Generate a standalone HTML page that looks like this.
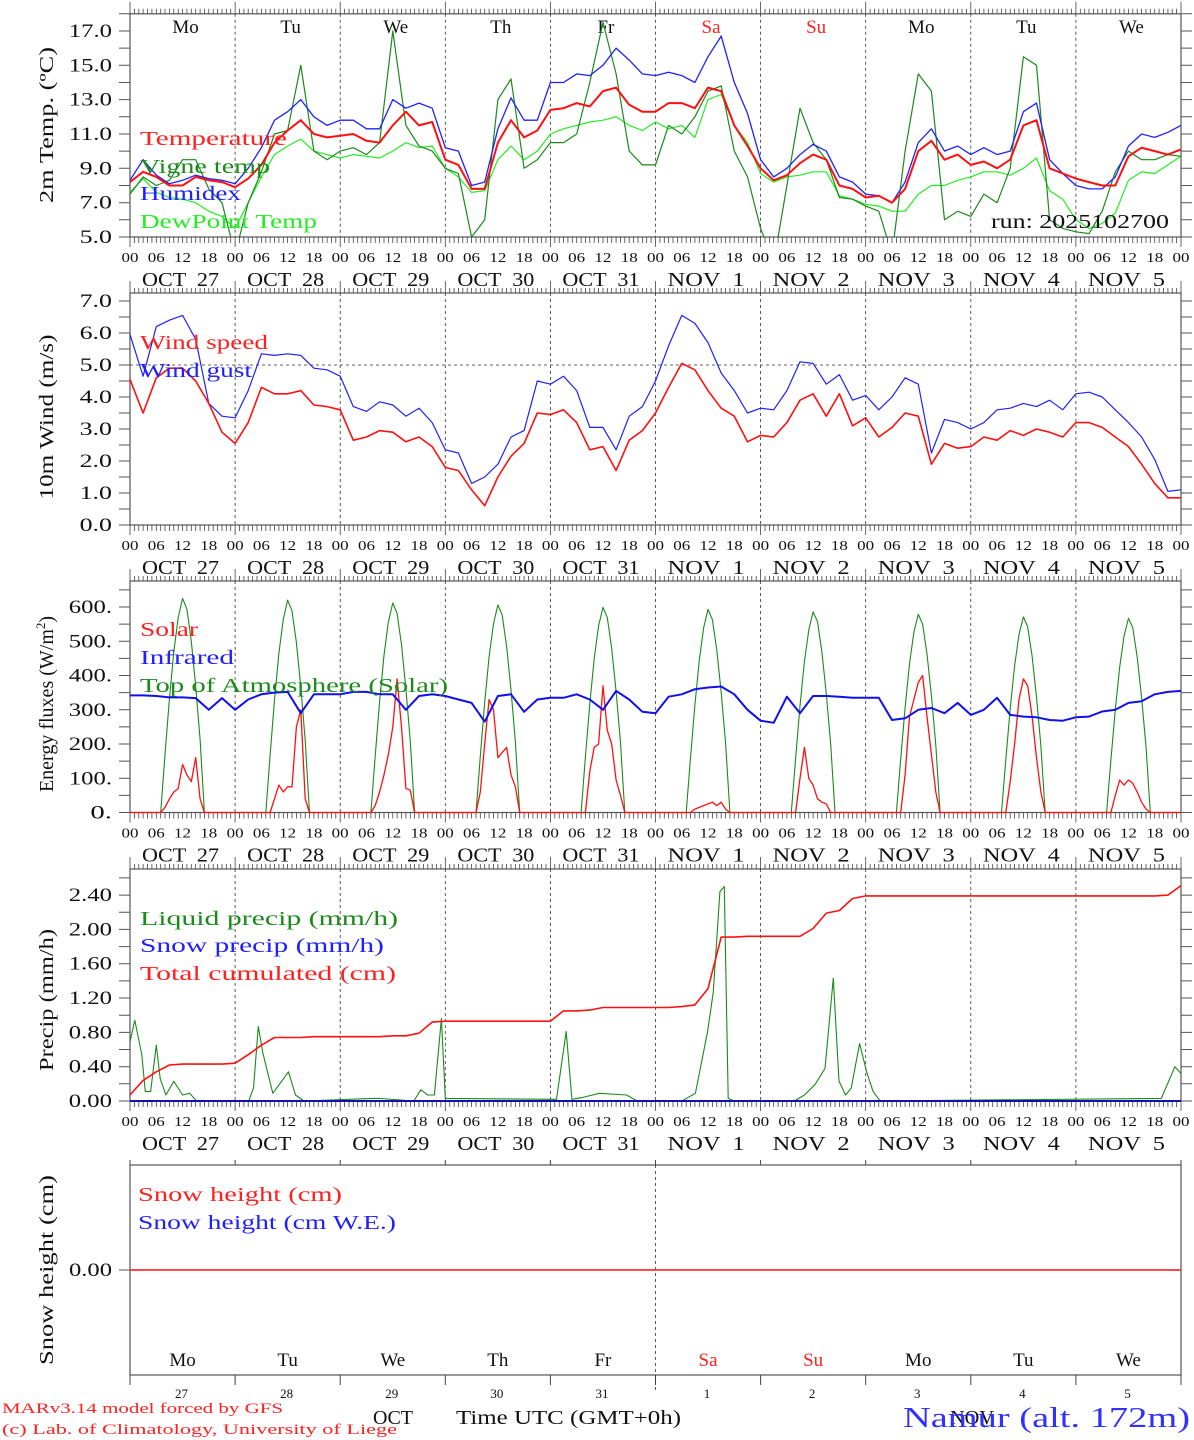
<!DOCTYPE html>
<html><head><meta charset="utf-8"><style>
html,body{margin:0;padding:0;background:#fff;}
svg{display:block;font-family:"Liberation Serif",serif;}
</style></head>
<body>
<svg id="chart" xmlns="http://www.w3.org/2000/svg" width="1194" height="1440" viewBox="0 0 1194 1440"></svg>
<script>
// ---------- DATA (3-hourly unless noted, 00 Oct27 .. 00 Nov6) ----------
const dayNames = ["Mo","Tu","We","Th","Fr","Sa","Su","Mo","Tu","We"];
const dayDates = ["OCT  27","OCT  28","OCT  29","OCT  30","OCT  31","NOV  1","NOV  2","NOV  3","NOV  4","NOV  5"];
const dayNums = ["27","28","29","30","31","1","2","3","4","5"];
const hourLabels = ["00","06","12","18"];
const tempTicks = [5,7,9,11,13,15,17];
const windTicks = [0,1,2,3,4,5,6,7];
const energyTicks = [0,100,200,300,400,500,600];
const precipTicks = [0,0.4,0.8,1.2,1.6,2.0,2.4];

const temperature = [8.2,8.8,8.5,8.0,8.0,8.5,8.3,8.2, 7.9,8.4,9.2,10.5,11.2,11.8,11.0,10.8, 10.9,11.0,10.6,10.5,11.5,12.3,11.5,11.7, 9.5,9.2,7.8,7.8,10.5,11.8,10.8,11.2, 12.4,12.5,12.8,12.6,13.5,13.7,12.7,12.3, 12.3,12.8,12.8,12.5,13.7,13.5,11.5,10.3, 9.0,8.3,8.6,9.3,9.8,9.5,8.0,7.8, 7.3,7.4,7.0,7.8,10.0,10.6,9.5,9.8, 9.2,9.4,9.0,9.5,11.5,11.8,9.0,8.7, 8.4,8.2,8.0,8.0,9.7,10.2,10.0,9.8, 10.1];
const humidex = [8.3,9.5,8.6,8.1,8.3,8.6,8.4,8.3, 8.1,9.0,10.2,11.8,12.3,13.0,12.0,11.5, 11.8,11.8,11.3,11.3,13.0,12.5,12.8,12.5, 10.2,10.0,8.0,8.2,11.3,13.1,11.8,11.8, 14.0,14.0,14.5,14.4,15.0,16.0,15.3,14.5, 14.4,14.6,14.4,14.0,15.5,16.7,14.0,12.2, 9.5,8.5,9.0,9.8,10.4,10.0,8.5,8.2, 7.5,7.4,7.0,8.2,10.5,11.3,10.0,10.3, 9.8,10.2,9.8,10.0,12.3,12.8,9.5,8.7, 8.0,7.8,7.8,8.5,10.3,11.0,10.8,11.1, 11.5];
const dewPoint = [7.6,8.4,7.6,7.3,7.2,7.0,6.5,6.2, 5.5,7.0,8.5,9.8,10.3,10.7,10.0,9.8, 9.6,9.8,9.7,9.6,10.0,10.5,10.2,10.3, 9.0,8.5,7.6,7.7,9.5,10.3,9.5,10.0, 11.0,11.3,11.5,11.7,11.8,12.0,11.5,11.2, 11.7,11.3,11.5,10.8,13.0,13.3,11.5,10.5, 8.7,8.2,8.5,8.6,8.8,8.8,7.4,7.2, 6.9,6.8,6.5,6.5,7.5,8.0,8.0,8.3, 8.5,8.8,8.8,8.6,9.0,9.6,7.7,7.2, 6.0,5.5,5.8,6.4,8.3,8.8,8.7,9.2, 9.7];
const vigneTemp = [7.5,8.5,8.0,8.3,9.5,9.5,7.8,7.0, 4.0,7.0,8.8,11.0,11.2,15.0,10.0,9.5, 10.0,10.2,9.8,10.5,17.0,11.5,10.3,10.0, 9.0,8.7,5.0,6.0,13.0,14.2,9.0,9.5, 10.5,10.5,11.0,14.0,17.5,14.5,10.0,9.2, 9.2,11.5,11.0,12.0,13.5,13.8,10.0,8.5, 5.5,3.5,8.0,12.5,10.5,9.5,7.3,7.2, 6.8,6.5,4.0,10.0,14.5,13.5,6.0,6.5, 6.2,7.5,7.0,9.0,15.5,15.0,6.0,5.5, 5.3,5.2,6.5,8.8,10.0,9.5,9.5,9.8, 9.7];

const windSpeed = [4.55,3.5,4.6,4.9,4.9,4.5,3.8,2.9, 2.55,3.2,4.3,4.1,4.1,4.2,3.75,3.7, 3.6,2.65,2.75,2.95,2.9,2.6,2.75,2.45, 1.8,1.7,1.1,0.6,1.5,2.15,2.55,3.5, 3.45,3.6,3.2,2.35,2.45,1.7,2.65,2.95, 3.5,4.3,5.05,4.85,4.2,3.65,3.4,2.6, 2.8,2.75,3.2,3.9,4.1,3.4,4.1,3.1, 3.35,2.75,3.05,3.5,3.4,1.9,2.55,2.4, 2.45,2.75,2.65,2.95,2.8,3.0,2.9,2.75, 3.2,3.2,3.05,2.75,2.45,1.9,1.3,0.85, 0.85];
const windGust = [5.95,4.65,6.2,6.4,6.55,5.8,3.8,3.4, 3.35,4.2,5.35,5.3,5.35,5.3,4.9,4.85, 4.65,3.7,3.55,3.85,3.75,3.4,3.65,3.2, 2.35,2.25,1.3,1.5,1.9,2.75,2.95,4.5, 4.4,4.65,4.2,3.05,3.05,2.35,3.4,3.7, 4.5,5.6,6.55,6.3,5.7,4.75,4.2,3.5, 3.65,3.6,4.2,5.1,5.05,4.4,4.7,3.9, 4.05,3.6,4.0,4.6,4.4,2.25,3.3,3.2, 3.0,3.2,3.6,3.65,3.8,3.7,3.9,3.6, 4.1,4.15,4.0,3.6,3.2,2.75,2.05,1.05, 1.1];

// hourly values 07..17 UTC for each day
const solarDays = [
 [0,15,40,60,70,140,110,90,160,40,0],
 [0,0,40,80,60,75,75,250,300,40,0],
 [0,20,60,110,170,250,390,250,70,65,0],
 [0,60,200,330,300,160,175,190,110,75,0],
 [0,0,120,190,200,370,240,200,95,50,0],
 [0,0,10,15,20,25,30,20,30,10,0],
 [0,0,100,190,100,80,40,30,25,0,0],
 [0,0,110,280,330,380,400,280,170,60,0],
 [0,0,90,200,330,390,370,280,160,60,0],
 [0,0,50,95,80,95,85,60,30,10,0]];
const toaDays = [
 [0,169,331,469,569,625,594,500,369,213,0],
 [0,167,329,465,564,620,589,496,366,211,0],
 [0,165,324,459,557,612,581,490,361,208,0],
 [0,164,321,455,551,606,576,485,358,206,0],
 [0,162,317,449,545,599,569,479,353,204,0],
 [0,160,314,445,540,593,563,474,350,202,0],
 [0,158,311,440,533,586,557,469,346,199,0],
 [0,156,307,434,527,579,550,463,342,197,0],
 [0,154,303,428,520,571,542,457,337,194,0],
 [0,153,301,425,516,567,539,454,335,193,0]];
const infrared = [342,342,340,336,336,334,300,334, 300,330,345,350,352,290,345,345, 345,352,352,345,345,300,340,345, 340,330,320,265,340,345,294,330, 335,335,345,330,300,355,330,294, 290,338,345,360,365,368,345,300, 268,262,338,290,340,340,338,335, 335,335,270,275,300,305,290,320, 285,300,335,285,280,278,270,268, 278,280,295,300,320,325,345,352, 355];

const precipCum = [0.07,0.24,0.34,0.42,0.43,0.43,0.43,0.43, 0.44,0.54,0.65,0.74,0.74,0.74,0.75,0.75, 0.75,0.75,0.75,0.75,0.76,0.76,0.79,0.92, 0.93,0.93,0.93,0.93,0.93,0.93,0.93,0.93, 0.93,1.05,1.05,1.06,1.09,1.09,1.09,1.09, 1.09,1.09,1.10,1.12,1.31,1.91,1.91,1.92, 1.92,1.92,1.92,1.92,2.01,2.19,2.22,2.36, 2.39,2.39,2.39,2.39,2.39,2.39,2.39,2.39, 2.39,2.39,2.39,2.39,2.39,2.39,2.39,2.39, 2.39,2.39,2.39,2.39,2.39,2.39,2.39,2.40, 2.51];
const liquidHours = [0,1.1,2.7,3.5,4.7,6,6.9,8.2,10,12,13.6,15.2, 27.1,28.2,29.3,30.3,31,32.6,36.2,37.8,39.7, 55.4,57,64.8,66.4,68,69.5,71.1,72, 97.4,99.6,100.9,103.2,107.2,113.4,115.8, 126,129.1,131.9,133.2,134.7,135.7,136.6,138, 151.7,154,156.4,158.7,160.6,161.9,163.4,164.7,166.6,168.2,169.7,171.3, 235.5,238.6,240];
const liquidValues = [0.69,0.94,0.54,0.11,0.11,0.65,0.26,0.07,0.23,0.07,0.09,0, 0,0.15,0.87,0.57,0.42,0.09,0.34,0.07,0, 0.03,0.03,0,0.13,0.07,0.07,0.96,0.03, 0.02,0.81,0.02,0.04,0.09,0.07,0, 0,0.09,0.81,1.27,2.44,2.50,0.03,0, 0,0.07,0.19,0.38,1.43,0.23,0.07,0.15,0.67,0.34,0.11,0, 0.03,0.40,0.32];
const snowPrecip = [0,0];
const snowHeight = [0,0];

// ---------- LAYOUT ----------
const NS = "http://www.w3.org/2000/svg";
const svg = document.getElementById("chart");
const X0 = 130, X1 = 1181;
function xOf(h){ return X0 + h*(X1-X0)/240; }
function mk(tag, attrs, parent){
  const e = document.createElementNS(NS, tag);
  for (const k in attrs) e.setAttribute(k, attrs[k]);
  (parent||svg).appendChild(e);
  return e;
}
function txt(str, attrs, parent){
  const e = mk("text", attrs, parent);
  e.textContent = str;
  return e;
}
const panels = [
  {top:13.8, bottom:237, y:v=>237-(v-5)*17.17},
  {top:293, bottom:525, y:v=>525-v*32},
  {top:581, bottom:812.5, y:v=>812.5-v*0.3425},
  {top:869, bottom:1101, y:v=>1101-v*85.8},
  {top:1165, bottom:1375, y:v=>1270-v*100}
];

function frame(p, i){
  const g = mk("g", {});
  
  
  mk("rect", {x:X0, y:p.top, width:X1-X0, height:p.bottom-p.top, fill:"none", stroke:"#555", "stroke-width":1.2}, g);
  for (let d=1; d<10; d++){
    if (i===4 && d!==5) continue;
    const x = xOf(d*24);
    mk("line", {x1:x, x2:x, y1:p.top, y2:p.bottom, stroke:"#333", "stroke-width":0.8, "stroke-dasharray":"3,3"}, g);
  }
  if (i<4){
    let s = "";
    for (let h=0; h<=240; h++){
      const x = xOf(h).toFixed(1);
      const major = h%24===0;
      s += `M${x},${p.top-(major?12:5)}V${p.top}M${x},${p.bottom}V${p.bottom+(major?10:6)}`;
    }
    mk("path", {d:s, stroke:"#444", "stroke-width":0.8, fill:"none"}, g);
  } else {
    let s = "";
    for (let d=0; d<=10; d++){
      const x = xOf(d*24).toFixed(1);
      s += `M${x},${p.top-5}V${p.top}M${x},${p.bottom}V${p.bottom+10}`;
    }
    mk("path", {d:s, stroke:"#444", "stroke-width":1, fill:"none"}, g);
    mk("line", {x1:xOf(120), x2:xOf(120), y1:p.bottom, y2:1392, stroke:"#333", "stroke-width":0.8, "stroke-dasharray":"3,3"}, g);
  }
  if (i<4){
    for (let d=0; d<10; d++){
      for (let k=0; k<4; k++){
        const t = txt(hourLabels[k], {x:xOf(d*24+k*6), y:p.bottom+25, "font-size":14, "text-anchor":"middle", fill:"#111", textLength:17, lengthAdjust:"spacingAndGlyphs"}, g);
        
        
      }
      const dl = txt(dayDates[d], {x:xOf(d*24+12)-2, y:p.bottom+49, "font-size":20, "text-anchor":"middle", fill:"#111", "xml:space":"preserve", style:"white-space:pre", textLength:77, lengthAdjust:"spacingAndGlyphs"}, g);
      
      
    }
    const e = txt("00", {x:xOf(240), y:p.bottom+25, "font-size":14, "text-anchor":"middle", fill:"#111", textLength:17, lengthAdjust:"spacingAndGlyphs"}, g);
    
    
  }
  return g;
}

function yTicks(p, ticks, minorStep, fmt, name){
  const g = mk("g", {});
  
  
  let s = "";
  const lo = ticks[0], hi = ticks[ticks.length-1]+minorStep*2;
  for (let v=lo; v<=hi+1e-6; v+=minorStep){
    const y = p.y(v);
    if (y < p.top-0.5) break;
    s += `M${X0-11},${y.toFixed(1)}H${X0}M${X1},${y.toFixed(1)}H${X1+11}`;
  }
  mk("path", {d:s, stroke:"#555", "stroke-width":1, fill:"none"}, g);
  ticks.forEach(v=>{
    const str = fmt(v);
    const t = txt(str, {x:112, y:p.y(v)+6, "font-size":19, "text-anchor":"end", fill:"#111", textLength:str.length*10.8, lengthAdjust:"spacingAndGlyphs"}, g);
    
    
  });
}

function yTitle(str, cy, name, len){
  const t = txt(str, {x:0, y:0, "font-size":20, "text-anchor":"middle", fill:"#111", transform:`translate(53,${cy}) rotate(-90)`, textLength:len, lengthAdjust:"spacingAndGlyphs"});
  
  
  return t;
}

function series(p, vals, step, color, w, name, clipMin){
  const pts = vals.map((v,i)=>{
    let y = p.y(v);
    if (clipMin!==undefined) y = Math.min(y, p.y(clipMin));
    return xOf(i*step).toFixed(1)+","+y.toFixed(1);
  }).join(" ");
  const l = mk("polyline", {points:pts, fill:"none", stroke:color, "stroke-width":w, "stroke-linejoin":"round"});
  
  
  return l;
}
function xySeries(p, hours, vals, color, w, name){
  const pts = hours.map((h,i)=>xOf(h).toFixed(1)+","+p.y(vals[i]).toFixed(1)).join(" ");
  const l = mk("polyline", {points:pts, fill:"none", stroke:color, "stroke-width":w, "stroke-linejoin":"round"});
  
  
  return l;
}
function daySeries(p, days, color, w, name){
  const hours = [], vals = [];
  hours.push(0); vals.push(0);
  days.forEach((row,d)=>row.forEach((v,k)=>{ hours.push(d*24+7+k); vals.push(v); }));
  hours.push(240); vals.push(0);
  return xySeries(p, hours, vals, color, w, name);
}
function legend(str, x, y, color, width, name){
  const t = txt(str, {x:x, y:y, "font-size":20, fill:color, textLength:width, lengthAdjust:"spacingAndGlyphs"});
  
  
}

const defs = mk("defs", {});
panels.forEach((p,i)=>{
  const c = mk("clipPath", {id:"clip"+i}, defs);
  mk("rect", {x:X0, y:p.top, width:X1-X0, height:p.bottom-p.top}, c);
});

panels.forEach((p,i)=>frame(p,i));

// ---- Panel 1: temperature ----
const P1 = panels[0];
yTicks(P1, tempTicks, 1, v=>v.toFixed(1), "temp-y-axis");
yTitle("2m Temp. (ºC)", 125, "temp-y-axis-title", 156);
dayNames.forEach((n,d)=>{
  const t = txt(n, {x:xOf(d*24+12)+3, y:33, "font-size":19, "text-anchor":"middle", fill:(d===5||d===6)?"#ff2020":"#111"});
  
  
});
{
  const g = mk("g", {"clip-path":"url(#clip0)"});
  
  
  g.appendChild(series(P1, dewPoint, 3, "#22ee22", 1.2, "dewpoint-line"));
  g.appendChild(series(P1, vigneTemp, 3, "#1a8a1a", 1.2, "vigne-temp-line"));
  g.appendChild(series(P1, humidex, 3, "#2020ff", 1.3, "humidex-line"));
  g.appendChild(series(P1, temperature, 3, "#ff1010", 2, "temperature-line"));
}
legend("Temperature", 140, 145, "#ff2020", 147, "legend-temperature");
legend("Vigne temp", 140, 173, "#1a8a1a", 130, "legend-vigne-temp");
legend("Humidex", 140, 200, "#2020ff", 101, "legend-humidex");
legend("DewPoint Temp", 140, 228, "#22ee22", 177, "legend-dewpoint");
{
  const t = txt("run: 2025102700", {x:1169, y:228, "font-size":20, "text-anchor":"end", fill:"#111", textLength:178, lengthAdjust:"spacingAndGlyphs"});
  
  
}

// ---- Panel 2: wind ----
const P2 = panels[1];
yTicks(P2, windTicks, 0.5, v=>v.toFixed(1), "wind-y-axis");
yTitle("10m Wind (m/s)", 417, "wind-y-axis-title", 165);
{
  const l = mk("line", {x1:X0, x2:X1, y1:P2.y(5), y2:P2.y(5), stroke:"#333", "stroke-width":0.8, "stroke-dasharray":"3,3"});
  
  
}
series(P2, windGust, 3, "#2020ff", 1.2, "wind-gust-line");
series(P2, windSpeed, 3, "#ff1010", 1.6, "wind-speed-line");
legend("Wind speed", 140, 349, "#ff2020", 128, "legend-wind-speed");
legend("Wind gust", 140, 377, "#2020ff", 112, "legend-wind-gust");

// ---- Panel 3: energy ----
const P3 = panels[2];
yTicks(P3, energyTicks, 50, v=>v===0?"0.":v+".", "energy-y-axis");
{
  const t = mk("text", {x:0, y:0, "font-size":20, "text-anchor":"middle", fill:"#111", transform:"translate(53,704) rotate(-90)"});
  
  
  t.appendChild(document.createTextNode("Energy fluxes (W/m"));
  const sup = mk("tspan", {"font-size":13, dy:-8}, t);
  sup.textContent = "2";
  const cl = mk("tspan", {dy:8}, t);
  cl.textContent = ")";
}
daySeries(P3, toaDays, "#1a8a1a", 1.1, "toa-solar-line");
daySeries(P3, solarDays, "#ff1010", 1.3, "solar-line");
series(P3, infrared, 3, "#1010ee", 2, "infrared-line");
legend("Solar", 140, 636, "#ff2020", 58, "legend-solar");
legend("Infrared", 140, 664, "#2020ff", 94, "legend-infrared");
legend("Top of Atmosphere (Solar)", 140, 692, "#1a8a1a", 308, "legend-toa");

// ---- Panel 4: precip ----
const P4 = panels[3];
yTicks(P4, precipTicks, 0.2, v=>v.toFixed(2), "precip-y-axis");
yTitle("Precip (mm/h)", 1000, "precip-y-axis-title", 142);
xySeries(P4, liquidHours, liquidValues, "#1a8a1a", 1.1, "liquid-precip-line");
series(P4, snowPrecip, 240, "#1010aa", 2, "snow-precip-line");
series(P4, precipCum, 3, "#ff1010", 1.6, "cumulated-precip-line");
legend("Liquid precip (mm/h)", 140, 925, "#1a8a1a", 258, "legend-liquid-precip");
legend("Snow precip (mm/h)", 140, 952, "#2020ff", 244, "legend-snow-precip");
legend("Total cumulated (cm)", 140, 980, "#ff2020", 256, "legend-cumulated");

// ---- Panel 5: snow ----
const P5 = panels[4];
{
  const g = mk("g", {});
  
  
  mk("line", {x1:X0-11, x2:X0, y1:1270, y2:1270, stroke:"#555"}, g);
  const t = txt("0.00", {x:112, y:1276, "font-size":19, "text-anchor":"end", fill:"#111", textLength:43, lengthAdjust:"spacingAndGlyphs"}, g);
  
  
}
yTitle("Snow height (cm)", 1270, "snow-y-axis-title", 190);
series(P5, snowHeight, 240, "#ff1010", 1.4, "snow-height-line");
legend("Snow height (cm)", 138, 1201, "#ff2020", 204, "legend-snow-height");
legend("Snow height (cm W.E.)", 138, 1229, "#2020ff", 258, "legend-snow-we");
dayNames.forEach((n,d)=>{
  const t = txt(n, {x:xOf(d*24+12), y:1366, "font-size":19, "text-anchor":"middle", fill:(d===5||d===6)?"#ff2020":"#111"});
  
  
  const u = txt(dayNums[d], {x:xOf(d*24+12)-1, y:1398, "font-size":13, "text-anchor":"middle", fill:"#111"});
  
  
});

// ---- Footer ----
function foot(str, attrs, name){
  const t = txt(str, attrs);
  
  
}
foot("MARv3.14 model forced by GFS", {x:2, y:1413, "font-size":15, fill:"#ff2020", textLength:281, lengthAdjust:"spacingAndGlyphs"}, "model-credit");
foot("(c) Lab. of Climatology, University of Liege", {x:2, y:1434, "font-size":15, fill:"#ff2020", textLength:395, lengthAdjust:"spacingAndGlyphs"}, "lab-credit");
foot("OCT", {x:373, y:1424, "font-size":20, fill:"#111", textLength:40, lengthAdjust:"spacingAndGlyphs"}, "month-oct-label");
foot("Time UTC (GMT+0h)", {x:456, y:1424, "font-size":20, fill:"#111", textLength:225, lengthAdjust:"spacingAndGlyphs"}, "x-axis-title");
foot("NOV", {x:950, y:1424, "font-size":20, fill:"#111", textLength:44, lengthAdjust:"spacingAndGlyphs"}, "month-nov-label");
foot("Namur (alt. 172m)", {x:903, y:1427, "font-size":28, fill:"#3030ff", textLength:287, lengthAdjust:"spacingAndGlyphs"}, "station-label");
</script>
</body></html>
